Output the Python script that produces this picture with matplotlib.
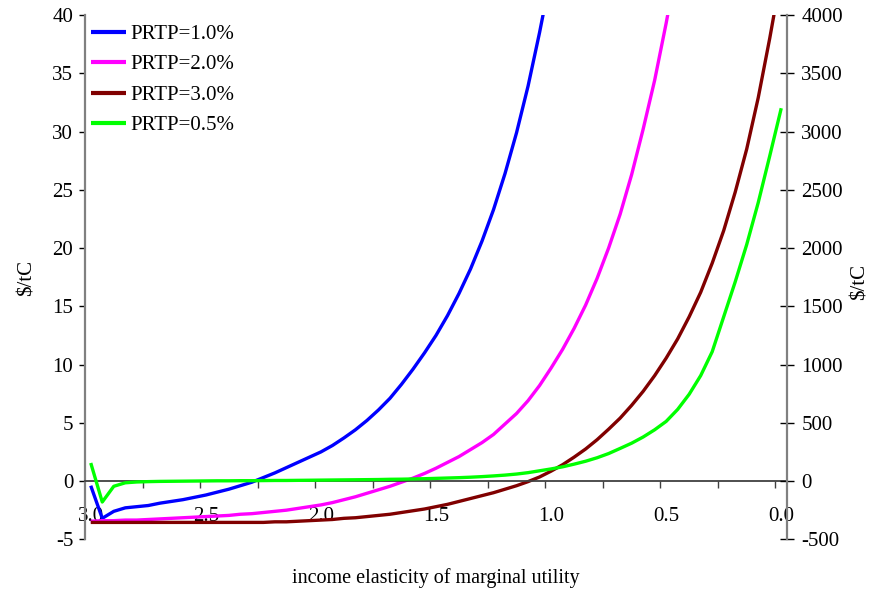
import numpy as np
import matplotlib
matplotlib.use("Agg")
import matplotlib.pyplot as plt
from matplotlib.ticker import FixedLocator, FixedFormatter

plt.rcParams['font.family'] = ['Liberation Serif', 'DejaVu Serif']

# income elasticity of marginal utility, 3.0 down to 0.0 in steps of 0.05
elasticity = np.round(np.arange(3.0, -0.001, -0.05), 2)

# social cost of carbon, $/tC (left axis)
scc_prtp_1 = [-0.4, -3.2, -2.6, -2.3, -2.2, -2.1, -1.9, -1.75, -1.6, -1.4,
              -1.2, -0.95, -0.7, -0.4, -0.1, 0.3, 0.7, 1.15, 1.6, 2.05,
              2.5, 3.05, 3.7, 4.4, 5.2, 6.1, 7.1, 8.3, 9.6, 11.0,
              12.5, 14.2, 16.1, 18.2, 20.6, 23.3, 26.4, 29.9, 33.9, 38.5,
              43.5]
scc_prtp_2 = [-3.45, -3.4, -3.4, -3.35, -3.35, -3.3, -3.25, -3.2, -3.15, -3.1,
              -3.05, -3.0, -2.95, -2.85, -2.8, -2.7, -2.6, -2.5, -2.35, -2.2,
              -2.05, -1.85, -1.6, -1.35, -1.05, -0.75, -0.45, -0.1, 0.25, 0.65,
              1.1, 1.6, 2.1, 2.7, 3.3, 4.0, 4.9, 5.8, 6.9, 8.2,
              9.7, 11.3, 13.1, 15.1, 17.4, 20.0, 22.9, 26.3, 30.2, 34.4,
              39.3, 44.6]
scc_prtp_3 = [-3.55, -3.55, -3.55, -3.55, -3.55, -3.55, -3.55, -3.55, -3.55, -3.55,
              -3.55, -3.55, -3.55, -3.55, -3.55, -3.55, -3.5, -3.5, -3.45, -3.4,
              -3.35, -3.3, -3.2, -3.15, -3.05, -2.95, -2.85, -2.7, -2.55, -2.4,
              -2.2, -2.0, -1.75, -1.5, -1.25, -1.0, -0.7, -0.4, -0.05, 0.35,
              0.85, 1.4, 2.05, 2.75, 3.55, 4.45, 5.4, 6.5, 7.7, 9.05,
              10.55, 12.2, 14.1, 16.2, 18.7, 21.5, 24.8, 28.5, 32.9, 38.0,
              43.5]
# right axis
scc_prtp_05 = [155, -180, -45, -15, -8, -5, -3, -2, -1, 0,
               1, 2, 2, 3, 3, 4, 5, 5, 6, 7,
               8, 9, 10, 11, 12, 13, 15, 16, 18, 20,
               23, 26, 29, 33, 38, 44, 51, 60, 72, 88,
               104, 122, 145, 170, 200, 236, 280, 325, 378, 440,
               512, 615, 745, 905, 1110, 1410, 1710, 2030, 2390, 2790,
               3200]

series_left = [("PRTP=1.0%", scc_prtp_1, "#0000ff"),
               ("PRTP=2.0%", scc_prtp_2, "#ff00ff"),
               ("PRTP=3.0%", scc_prtp_3, "#800000")]
series_right = ("PRTP=0.5%", scc_prtp_05, "#00ff00")

left_ticks = [-5, 0, 5, 10, 15, 20, 25, 30, 35, 40]
right_ticks = [-500, 0, 500, 1000, 1500, 2000, 2500, 3000, 3500, 4000]
x_labels = ["3.0", "2.5", "2.0", "1.5", "1.0", "0.5", "0.0"]
x_label_pos = [3.0, 2.5, 2.0, 1.5, 1.0, 0.5, 0.0]
x_tick_pos = [2.775, 2.525, 2.275, 2.025, 1.775, 1.525, 1.275, 1.025,
              0.775, 0.525, 0.275, 0.025]

W, H = 880, 590
fig = plt.figure(figsize=(W / 100, H / 100), dpi=100)
ax = fig.add_axes([85 / W, 1 - 539.3 / H, 702 / W, 524.3 / H])
ax2 = ax.twinx()

FS = 15
LW = 2.4
spine_grey = "#808080"

handles = []
for name, vals, col in series_left:
    h, = ax.plot(elasticity[:len(vals)], vals, color=col, lw=LW,
                 solid_capstyle='butt', label=name)
    handles.append(h)
name, vals, col = series_right
h, = ax2.plot(elasticity[:len(vals)], vals, color=col, lw=LW,
              solid_capstyle='butt', label=name)
handles.append(h)

ax.set_xlim(3.025, -0.025)
ax.set_ylim(-5, 40)
ax2.set_ylim(-500, 4000)

# spines
for s in ["top", "right"]:
    ax.spines[s].set_visible(False)
for s in ["top", "left", "bottom"]:
    ax2.spines[s].set_visible(False)
ax.spines["left"].set_color(spine_grey)
ax.spines["left"].set_linewidth(1.6)
ax2.spines["right"].set_color(spine_grey)
ax2.spines["right"].set_linewidth(1.6)
ax.spines["bottom"].set_position(("data", 0))
ax.spines["bottom"].set_color("#404040")
ax.spines["bottom"].set_linewidth(1.3)

# left axis ticks
ax.set_yticks(left_ticks)
ax.set_yticklabels([str(t) for t in left_ticks])
ax.tick_params(axis="y", direction="out", length=4.5, width=1.0,
               color="black", labelsize=FS, pad=4)

# right axis ticks
ax2.set_yticks(right_ticks)
ax2.set_yticklabels([str(t) for t in right_ticks])
ax2.tick_params(axis="y", direction="inout", length=10.5, width=1.0,
                color="black", labelsize=FS, pad=5)

# x axis: labels at category centres, tick marks on category boundaries
ax.xaxis.set_major_locator(FixedLocator(x_label_pos))
ax.xaxis.set_major_formatter(FixedFormatter(x_labels))
ax.xaxis.set_minor_locator(FixedLocator(x_tick_pos))
ax.tick_params(axis="x", which="major", length=0, labelsize=FS, pad=19)
ax.tick_params(axis="x", which="minor", direction="out", length=5,
               width=1.0, color="#404040")

# axis titles
fig.text(27 / W, 1 - 278 / H, "$/tC", rotation=90, fontsize=FS,
         ha="center", va="center", parse_math=False)
fig.text(860 / W, 1 - 282 / H, "$/tC", rotation=90, fontsize=FS,
         ha="center", va="center", parse_math=False)
fig.text(436 / W, 1 - 578 / H, "income elasticity of marginal utility",
         fontsize=14.5, ha="center", va="center")

leg = ax2.legend(handles=handles, loc="upper left",
                 bbox_to_anchor=(91 / W, 1 - 24.5 / H),
                 bbox_transform=fig.transFigure, frameon=False,
                 fontsize=FS, borderpad=0, borderaxespad=0,
                 handlelength=1.7, handletextpad=0.2, labelspacing=0.52)
for line in leg.get_lines():
    line.set_linewidth(3.0)

fig.savefig("out.png", dpi=100)
